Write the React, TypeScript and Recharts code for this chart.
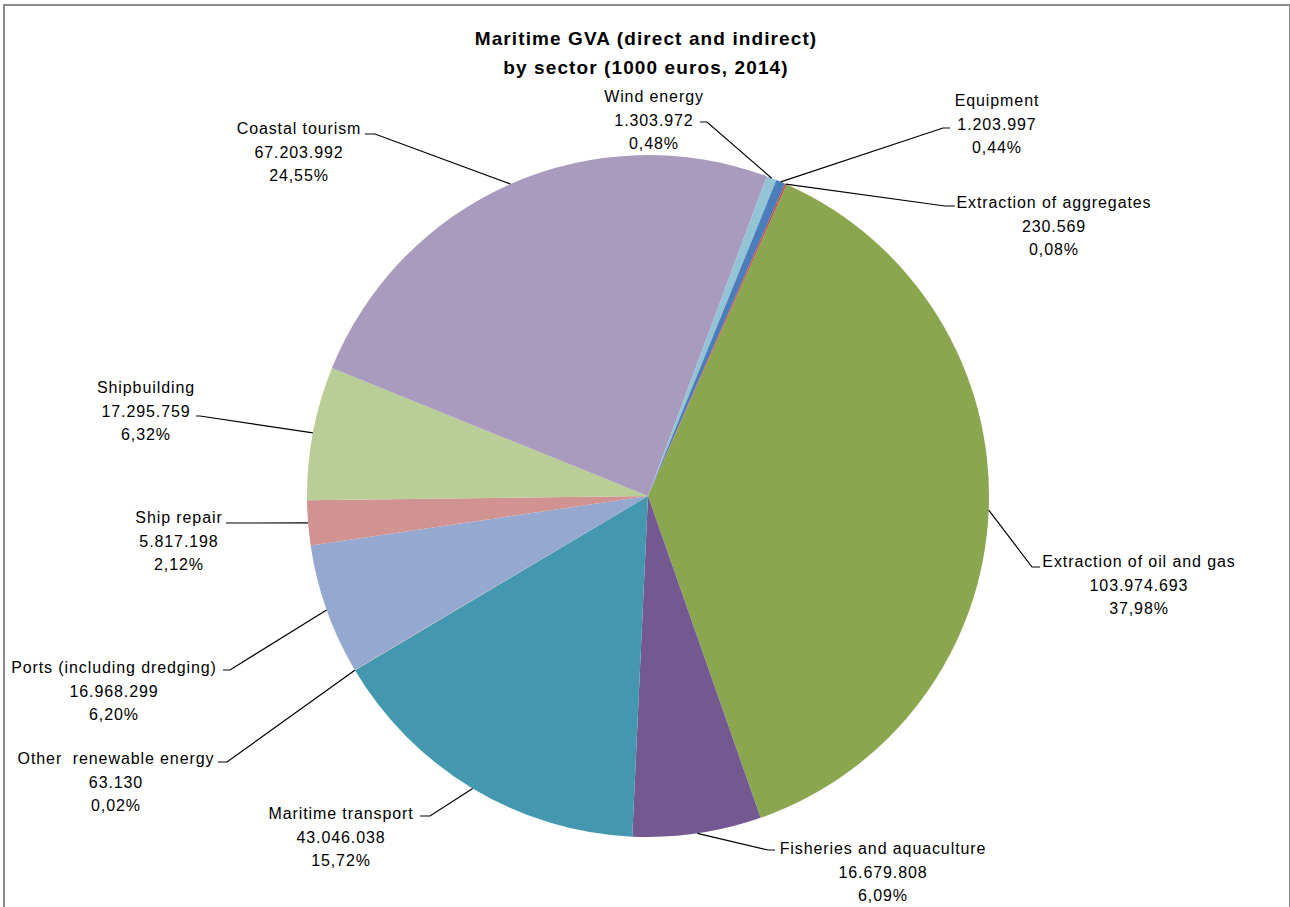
import React from 'react';
import { PieChart, Pie, Cell } from 'recharts';

const sectors = [
  'Extraction of oil and gas',
  'Fisheries and aquaculture',
  'Maritime transport',
  'Other  renewable energy',
  'Ports (including dredging)',
  'Ship repair',
  'Shipbuilding',
  'Coastal tourism',
  'Wind energy',
  'Equipment',
  'Extraction of aggregates',
];

const gva = [
  103974693, 16679808, 43046038, 63130, 16968299, 5817198, 17295759, 67203992, 1303972, 1203997, 230569,
];

const colors = [
  '#8AA64F', '#735892', '#4398AF', '#E8B38A', '#95A9D0', '#D19392', '#B9CD96', '#A99BBD', '#93C4D6', '#4A7DBA', '#C0504D',
];

const titleLines = ['Maritime GVA (direct and indirect)', 'by sector (1000 euros, 2014)'];

// label placement relative to pie centre: text centre/baseline, leader elbow, leader end
const labelLayout = [
  { tx: 491, ty: 71, ex: 384, ey: 71, hx: 392, hy: 71 },
  { tx: 235, ty: 358, ex: 120, ey: 354, hx: 127, hy: 354 },
  { tx: -307, ty: 323, ex: -218, ey: 320, hx: -228, hy: 320 },
  { tx: -532, ty: 268, ex: -421, ey: 266, hx: -430, hy: 266 },
  { tx: -534, ty: 177, ex: -418, ey: 174, hx: -425, hy: 174 },
  { tx: -469, ty: 27, ex: -422, ey: 27, hx: -422, hy: 27 },
  { tx: -502, ty: -103, ex: -448, ey: -80, hx: -452, hy: -80 },
  { tx: -349, ty: -362, ex: -273, ey: -362, hx: -283, hy: -362 },
  { tx: 6, ty: -394, ex: 59, ey: -374, hx: 52, hy: -374 },
  { tx: 349, ty: -390, ex: 295, ey: -368, hx: 302, hy: -368 },
  { tx: 406, ty: -288, ex: 297, ey: -290, hx: 307, hy: -290 },
];

const data = sectors.map((name, i) => ({ name, value: gva[i] }));

const FONT = '"Liberation Sans", Arial, sans-serif';
const fmtNum = (v: number) => String(v).replace(/\B(?=(\d{3})+(?!\d))/g, '.');
const fmtPct = (p: number) => (p * 100).toFixed(2).replace('.', ',') + '%';

const renderLabel = (props: any) => {
  const { cx, cy, midAngle, outerRadius, index, percent } = props;
  const L = labelLayout[index];
  const rad = (-midAngle * Math.PI) / 180;
  const sx = cx + outerRadius * Math.cos(rad);
  const sy = cy + outerRadius * Math.sin(rad);
  const pts = `${sx},${sy} ${cx + L.ex},${cy + L.ey} ${cx + L.hx},${cy + L.hy}`;
  const x = cx + L.tx;
  return (
    <g key={`lbl-${index}`}>
      <polyline points={pts} fill="none" stroke="#000" strokeWidth={1.2} />
      <text
        x={x}
        y={cy + L.ty}
        textAnchor="middle"
        fontFamily={FONT}
        fontSize={16}
        letterSpacing={0.9}
        fill="#000"
        style={{ whiteSpace: 'pre' }}
      >
        <tspan x={x} dy={0}>{sectors[index]}</tspan>
        <tspan x={x} dy={23.5}>{fmtNum(gva[index])}</tspan>
        <tspan x={x} dy={23.5}>{fmtPct(percent)}</tspan>
      </text>
    </g>
  );
};

export default function App() {
  return (
    <div style={{ position: 'absolute', left: 0, top: 0, width: 1290, height: 907, overflow: 'hidden', background: '#fff' }}>
      <div
        style={{
          position: 'absolute',
          left: 3,
          top: 4,
          width: 1284,
          height: 1000,
          border: '2px solid #8c8c8c',
        }}
      />
      <div style={{ position: 'absolute', left: 0, top: 0 }}>
        <PieChart width={1290} height={907} margin={{ top: 0, right: 0, bottom: 0, left: 0 }}>
          <Pie
            data={data}
            dataKey="value"
            nameKey="name"
            cx={648}
            cy={496}
            outerRadius={341}
            startAngle={66}
            endAngle={-294}
            stroke="none"
            isAnimationActive={false}
            label={renderLabel}
            labelLine={false}
          >
            {data.map((d, i) => (
              <Cell key={d.name} fill={colors[i]} stroke="none" />
            ))}
          </Pie>
        </PieChart>
      </div>
      <svg width={1290} height={120} style={{ position: 'absolute', left: 0, top: 0, pointerEvents: 'none' }}>
        {titleLines.map((t, i) => (
          <text
            key={t}
            x={646}
            y={45 + i * 29}
            textAnchor="middle"
            fontFamily={FONT}
            fontSize={19}
            fontWeight="bold"
            letterSpacing={1.1}
            fill="#000"
          >
            {t}
          </text>
        ))}
      </svg>
    </div>
  );
}
